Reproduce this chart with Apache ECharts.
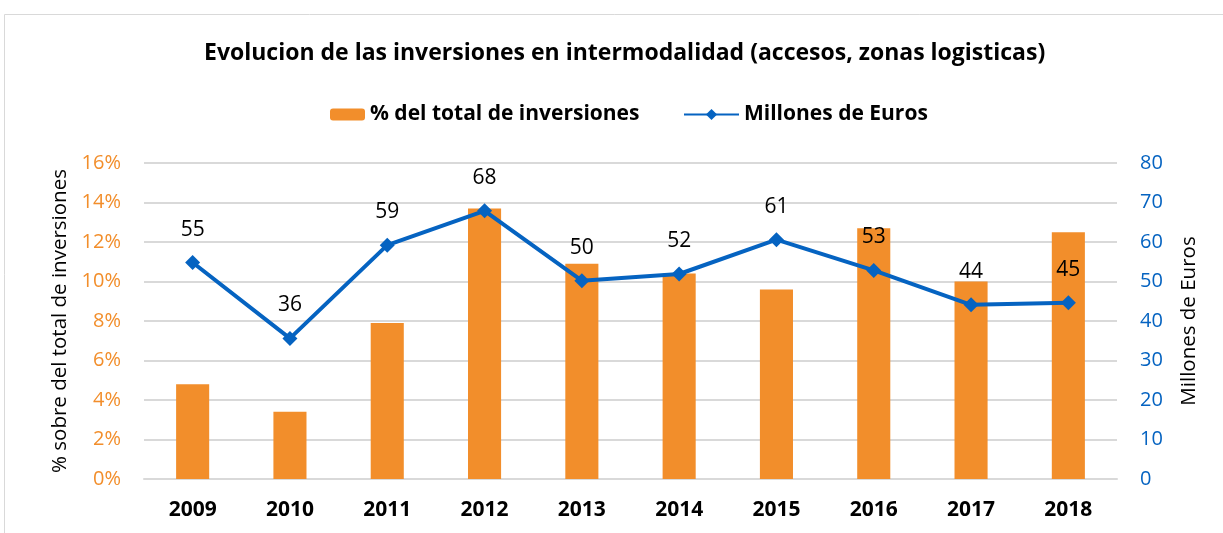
<!DOCTYPE html>
<html><head><meta charset="utf-8">
<script src="https://cdn.jsdelivr.net/npm/echarts@6/dist/echarts.min.js"></script>
<style>html,body{margin:0;padding:0;background:#fff}#c{width:1223px;height:533px}</style>
</head><body><div id="c"></div>
<script>
const categories = ['2009','2010','2011','2012','2013','2014','2015','2016','2017','2018'];
const pctValues = [4.8, 3.4, 7.9, 13.7, 10.9, 10.4, 9.6, 12.7, 10.0, 12.5];
const euroValues = [54.8, 35.6, 59.2, 67.9, 50.2, 51.9, 60.6, 52.8, 44.1, 44.6];
const leftTicks = {min: 0, max: 16, interval: 2};
const rightTicks = {min: 0, max: 80, interval: 10};
const titleText = 'Evolucion de las inversiones en intermodalidad (accesos, zonas logisticas)';
const barName = '% del total de inversiones';
const lineName = 'Millones de Euros';

const FONT = '"Open Sans", sans-serif';
const chart = echarts.init(document.getElementById('c'));
chart.setOption({
  animation: false,
  textStyle: {fontFamily: FONT},
  graphic: [{type: 'rect', shape: {x: 4.5, y: 14.5, width: 1300, height: 600},
    style: {fill: 'none', stroke: '#d9d9d9', lineWidth: 1}}],
  title: {text: titleText, left: 199, top: 37,
    textStyle: {fontFamily: FONT, fontWeight: 'bold', fontSize: 23, color: '#000'}},
  legend: [
    {data: [barName], left: 325, top: 99, itemWidth: 35, itemHeight: 12, itemGap: 4,
      textStyle: {fontFamily: FONT, fontWeight: 'bold', fontSize: 21, color: '#000'}},
    {data: [lineName], left: 678, top: 99, itemWidth: 55, itemHeight: 14,
      textStyle: {fontFamily: FONT, fontWeight: 'bold', fontSize: 21, color: '#000'}}
  ],
  grid: {left: 144, right: 106, top: 163, bottom: 54},
  xAxis: {type: 'category', data: categories,
    axisLine: {lineStyle: {color: '#d9d9d9', width: 2}}, axisTick: {show: false},
    axisLabel: {margin: 21, fontFamily: FONT, fontWeight: 'bold', fontSize: 21, color: '#000'}},
  yAxis: [
    {type: 'value', min: leftTicks.min, max: leftTicks.max, interval: leftTicks.interval,
      name: '% sobre del total de inversiones', nameLocation: 'middle', nameGap: 73, nameRotate: 90,
      nameTextStyle: {fontFamily: FONT, fontSize: 20.5, color: '#000'},
      axisLine: {show: false}, axisTick: {show: false},
      splitLine: {lineStyle: {color: '#d9d9d9', width: 2}},
      axisLabel: {margin: 23, fontFamily: FONT, fontSize: 20, color: '#F28E2B', formatter: v => v + '%'}},
    {type: 'value', min: rightTicks.min, max: rightTicks.max, interval: rightTicks.interval,
      name: 'Millones de Euros', nameLocation: 'middle', nameGap: 62, nameRotate: 90,
      nameTextStyle: {fontFamily: FONT, fontSize: 20.5, color: '#000'},
      axisLine: {show: false}, axisTick: {show: false}, splitLine: {show: false},
      axisLabel: {margin: 23, fontFamily: FONT, fontSize: 20, color: '#0563C1'}}
  ],
  series: [
    {name: barName, type: 'bar', yAxisIndex: 0, data: pctValues, barWidth: '34%',
      itemStyle: {color: '#F28E2B'}},
    {name: lineName, type: 'line', yAxisIndex: 1, data: euroValues,
      symbol: 'diamond', symbolSize: 15, lineStyle: {color: '#0563C1', width: 4},
      itemStyle: {color: '#0563C1'},
      label: {show: true, position: 'top', distance: 15, fontFamily: FONT, fontSize: 21, color: '#000',
        formatter: p => Math.round(p.value)}}
  ]
});
</script></body></html>
